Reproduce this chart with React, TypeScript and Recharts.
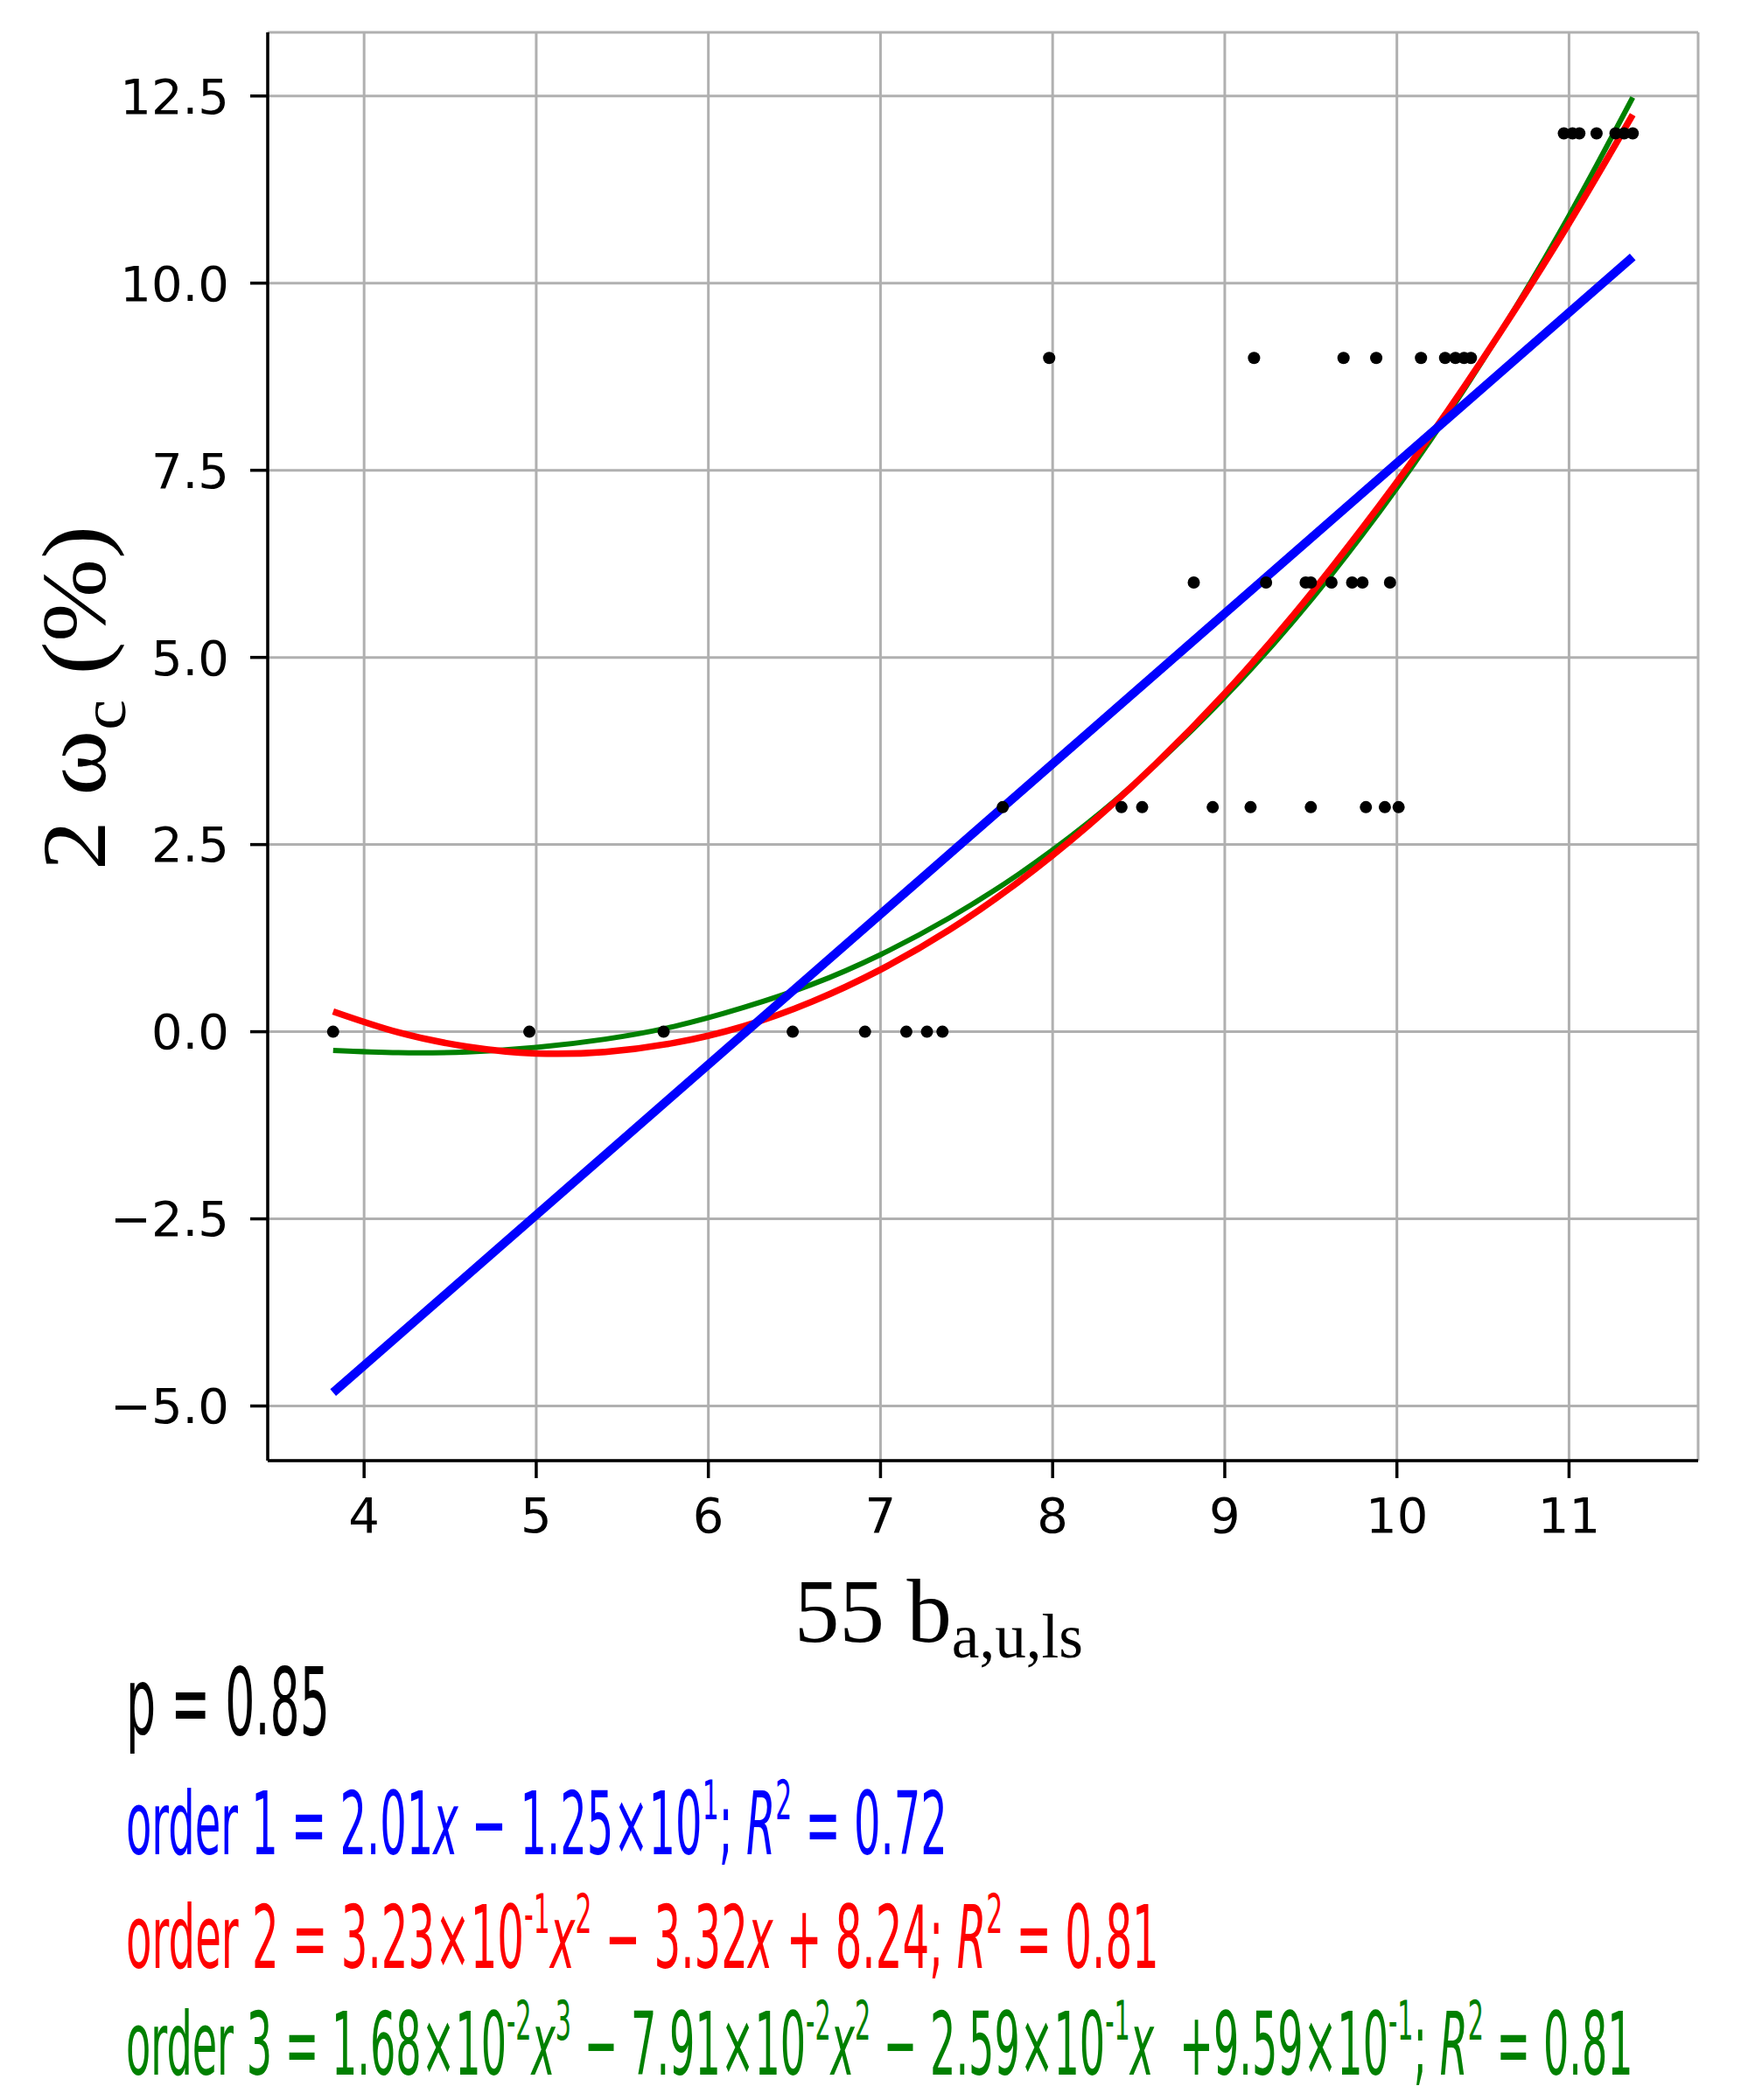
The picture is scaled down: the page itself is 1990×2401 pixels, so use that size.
import React, { useLayoutEffect, useRef, useState } from "react";
import {
  ComposedChart, Line, Scatter, XAxis, YAxis, CartesianGrid,
} from "recharts";

// observed points, grouped by level of 2 ω_c
const level0 = [3.82, 4.96, 5.74, 6.49, 6.91, 7.15, 7.27, 7.36];
const level3 = [7.71, 8.4, 8.52, 8.93, 9.15, 9.5, 9.82, 9.93, 10.01];
const level6 = [8.82, 9.24, 9.47, 9.5, 9.62, 9.74, 9.8, 9.96];
const level9 = [7.98, 9.17, 9.69, 9.88, 10.14, 10.28, 10.34, 10.39, 10.43];
const level12 = [10.97, 11.02, 11.06, 11.16, 11.27, 11.32, 11.37];

// fitted curves, read along the x range of the data
const curveX = [3.82, 4.2, 4.6, 5.0, 5.4, 5.8, 6.2, 6.6, 7.0, 7.4, 7.8, 8.2, 8.6, 9.0, 9.4, 9.8, 10.2, 10.6, 11.0, 11.37];
const order2Y = [0.27, -0.01, -0.2, -0.29, -0.27, -0.15, 0.07, 0.4, 0.83, 1.36, 2.0, 2.74, 3.58, 4.52, 5.57, 6.73, 7.98, 9.34, 10.8, 12.25];
const order3Y = [-0.25, -0.28, -0.27, -0.21, -0.1, 0.07, 0.32, 0.63, 1.03, 1.52, 2.1, 2.78, 3.57, 4.47, 5.49, 6.64, 7.92, 9.34, 10.9, 12.48];
const order1X = [3.82, 11.37];
const order1Y = [-4.82, 10.35];

const xTicks = [4, 5, 6, 7, 8, 9, 10, 11];
const yTicks = [-5, -2.5, 0, 2.5, 5, 7.5, 10, 12.5];

const points = [
  ...level0.map((x) => ({ x, y: 0 })),
  ...level3.map((x) => ({ x, y: 3 })),
  ...level6.map((x) => ({ x, y: 6 })),
  ...level9.map((x) => ({ x, y: 9 })),
  ...level12.map((x) => ({ x, y: 12 })),
];
const order1 = order1X.map((x, i) => ({ x, y: order1Y[i] }));
const order2 = curveX.map((x, i) => ({ x, y: order2Y[i] }));
const order3 = curveX.map((x, i) => ({ x, y: order3Y[i] }));

type Seg = { t: string; sup?: boolean; sub?: boolean; it?: boolean };

const pLine: Seg[] = [{ t: "p = 0.85" }];
const line1: Seg[] = [
  { t: "order 1 = 2.01" }, { t: "x", it: true }, { t: " − 1.25×10" }, { t: "1", sup: true },
  { t: "; " }, { t: "R", it: true }, { t: "2", sup: true }, { t: " = 0.72" },
];
const line2: Seg[] = [
  { t: "order 2 = 3.23×10" }, { t: "-1", sup: true }, { t: "x", it: true }, { t: "2", sup: true },
  { t: " − 3.32" }, { t: "x", it: true }, { t: " + 8.24; " }, { t: "R", it: true },
  { t: "2", sup: true }, { t: " = 0.81" },
];
const line3: Seg[] = [
  { t: "order 3 = 1.68×10" }, { t: "-2", sup: true }, { t: "x", it: true }, { t: "3", sup: true },
  { t: " − 7.91×10" }, { t: "-2", sup: true }, { t: "x", it: true }, { t: "2", sup: true },
  { t: " − 2.59×10" }, { t: "-1", sup: true }, { t: "x", it: true }, { t: "  +9.59×10" },
  { t: "-1", sup: true }, { t: "; " }, { t: "R", it: true }, { t: "2", sup: true }, { t: " = 0.81" },
];
const yLabel: Seg[] = [{ t: "2 ω" }, { t: "c", sub: true }, { t: " (%)" }];
const xLabel: Seg[] = [{ t: "55 b" }, { t: "a,u,ls", sub: true }];

function fmtY(v: number) {
  return (v < 0 ? "−" : "") + Math.abs(v).toFixed(1);
}

// text squeezed (or stretched) along its run to a measured width
function FitText({ segs, x, y, len, fill, font, size, small, shift, rotate = 0 }: {
  segs: Seg[]; x: number; y: number; len: number; fill: string; font: string;
  size: number; small: number; shift: number; rotate?: number;
}) {
  const ref = useRef<SVGTextElement>(null);
  const [sx, setSx] = useState(1);
  useLayoutEffect(() => {
    if (ref.current) {
      const w = ref.current.getBBox().width;
      if (w > 0) setSx(len / w);
    }
  }, [len]);
  let off = 0;
  return (
    <g transform={`translate(${x} ${y}) rotate(${rotate}) scale(${sx} 1)`}>
      <text ref={ref} x={0} y={0} fill={fill} fontFamily={font} fontSize={size} style={{ whiteSpace: "pre" }}>
        {segs.map((s, i) => {
          const target = s.sup ? -shift : s.sub ? shift : 0;
          const dy = target - off;
          off = target;
          return (
            <tspan key={i} dy={dy} fontSize={s.sup || s.sub ? small : size} fontStyle={s.it ? "italic" : "normal"}>
              {s.t}
            </tspan>
          );
        })}
      </text>
    </g>
  );
}

const axisStroke = { stroke: "#000", strokeWidth: 3.5 };
const tickFont = { fontSize: 56, fill: "#000", fontFamily: "DejaVu Sans" };

export default function App() {
  return (
    <div style={{ position: "relative", width: 1990, height: 2401, background: "#fff" }}>
      <style>{"body{margin:0}"}</style>
      <ComposedChart width={1990} height={1950} margin={{ top: 37, right: 49, left: 0, bottom: 0 }}>
        <CartesianGrid stroke="#b0b0b0" strokeWidth={3} />
        <XAxis type="number" dataKey="x" domain={[3.44, 11.75]} ticks={xTicks} interval={0}
          allowDataOverflow height={280} tickSize={20} tickMargin={22}
          axisLine={axisStroke} tickLine={axisStroke} tick={tickFont} />
        <YAxis type="number" dataKey="y" domain={[-5.73, 13.35]} ticks={yTicks} interval={0}
          allowDataOverflow width={306} tickSize={20} tickMargin={24} tickFormatter={fmtY}
          axisLine={axisStroke} tickLine={axisStroke} tick={tickFont} />
        <Scatter data={points} fill="#000" isAnimationActive={false}
          shape={(p: any) => <circle cx={p.cx} cy={p.cy} r={7} fill="#000" />} />
        <Line data={order3} dataKey="y" type="natural" stroke="#008000" strokeWidth={6} dot={false} isAnimationActive={false} />
        <Line data={order2} dataKey="y" type="natural" stroke="#ff0000" strokeWidth={7.5} dot={false} isAnimationActive={false} />
        <Line data={order1} dataKey="y" type="linear" stroke="#0000ff" strokeWidth={10} dot={false} isAnimationActive={false} />
      </ComposedChart>
      <svg width={1990} height={2401} style={{ position: "absolute", left: 0, top: 0, pointerEvents: "none" }}>
        <FitText segs={yLabel} x={120} y={995} rotate={-90} len={394} fill="#000"
          font="Liberation Serif" size={104} small={72} shift={23} />
        <FitText segs={xLabel} x={908} y={1877} len={330} fill="#000"
          font="Liberation Serif" size={104} small={72} shift={18} />
        <FitText segs={pLine} x={144} y={1983} len={233} fill="#000"
          font="DejaVu Sans" size={106} small={62} shift={40} />
        <FitText segs={line1} x={144} y={2120} len={939} fill="#0000ff"
          font="DejaVu Sans" size={100} small={62} shift={40} />
        <FitText segs={line2} x={144} y={2250} len={1181} fill="#ff0000"
          font="DejaVu Sans" size={100} small={62} shift={40} />
        <FitText segs={line3} x={144} y={2372} len={1723} fill="#008000"
          font="DejaVu Sans" size={100} small={62} shift={40} />
      </svg>
    </div>
  );
}
